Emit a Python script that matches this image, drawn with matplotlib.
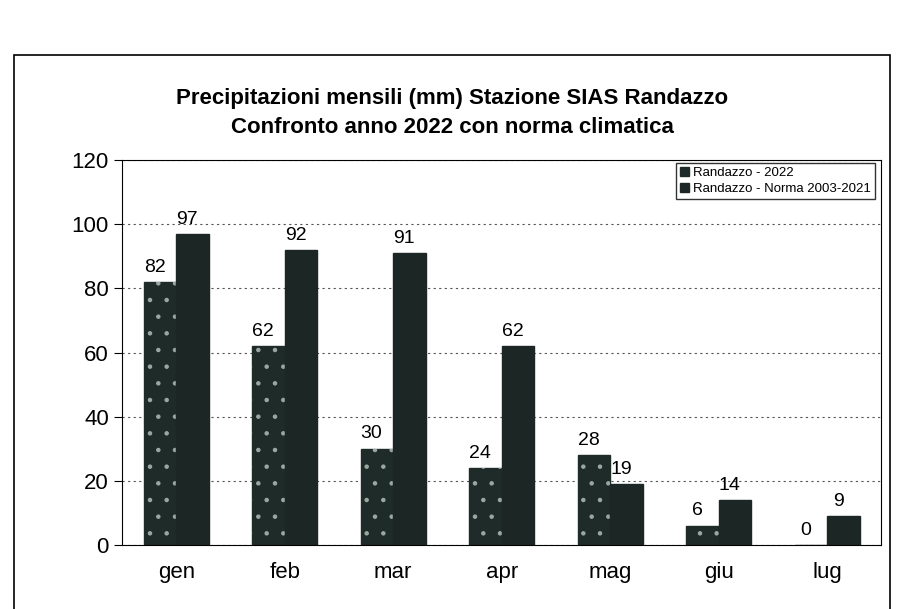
import numpy as np
import matplotlib.pyplot as plt
from matplotlib.patches import Rectangle

mesi = ["gen", "feb", "mar", "apr", "mag", "giu", "lug"]
pioggia_2022 = [82, 62, 30, 24, 28, 6, 0]
norma_2003_2021 = [97, 92, 91, 62, 19, 14, 9]

plt.rcParams['font.family'] = ['Liberation Sans', 'DejaVu Sans']
plt.rcParams['hatch.linewidth'] = 0.8

fig = plt.figure(figsize=(9.04, 6.09), dpi=100)
ax = fig.add_axes([0.135, 0.105, 0.84, 0.632])

# outer frame of the chart box
fig.patches.append(Rectangle((0.015, -0.05), 0.97, 0.96, transform=fig.transFigure,
                             fill=False, edgecolor='black', linewidth=1.2))

x = np.arange(len(mesi))
w = 0.3
b1 = ax.bar(x - w / 2, pioggia_2022, w, color='#1f2b28', edgecolor='#1f2b28',
            label='Randazzo - 2022')
# speckle overlay on the 2022 bars
ax.bar(x - w / 2, pioggia_2022, w, color='none', edgecolor='#9aa8a2',
       hatch='.', linewidth=0)
b2 = ax.bar(x + w / 2, norma_2003_2021, w, color='#1c2725', edgecolor='#1c2725',
            label='Randazzo - Norma 2003-2021')

for bars, vals in [(b1, pioggia_2022), (b2, norma_2003_2021)]:
    for r, v in zip(bars, vals):
        ax.text(r.get_x() + r.get_width() / 2 - 0.05, v + 2, str(v),
                ha='center', va='bottom', fontsize=14)

ax.set_ylim(0, 120)
ax.set_xlim(-0.5, len(mesi) - 0.5)
ax.set_yticks(range(0, 121, 20))
ax.set_xticks(x)
ax.set_xticklabels(mesi)
ax.tick_params(axis='both', labelsize=16, direction='out', length=6)
ax.tick_params(axis='x', length=0, pad=12)
ax.yaxis.grid(True, linestyle=(0, (2, 3)), color='#555555', linewidth=0.8)
ax.set_axisbelow(True)
for s in ['top', 'right']:
    ax.spines[s].set_linewidth(0.8)

ax.legend(loc='upper right', fontsize=9.5, frameon=True, fancybox=False,
          edgecolor='black', handlelength=0.7, handleheight=0.7,
          borderpad=0.3, labelspacing=0.3, handletextpad=0.3,
          bbox_to_anchor=(1.0, 1.01))

fig.text(0.5, 0.815, "Precipitazioni mensili (mm) Stazione SIAS Randazzo\n"
         "Confronto anno 2022 con norma climatica",
         ha='center', va='center', fontsize=16, fontweight='bold', linespacing=1.5)

fig.savefig('out.png', dpi=100)
